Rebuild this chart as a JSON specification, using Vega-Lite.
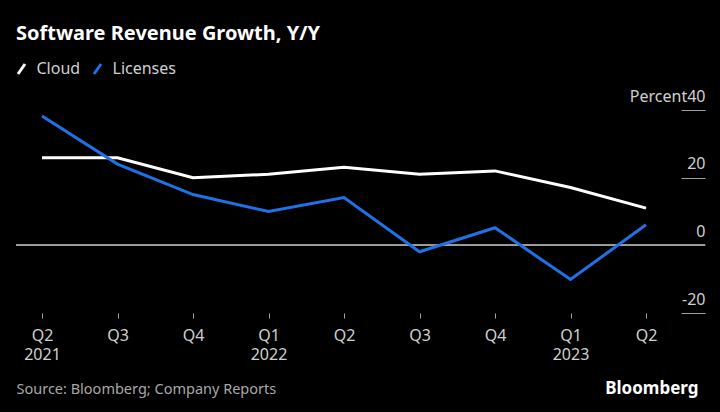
{
  "$schema": "https://vega.github.io/schema/vega-lite/v6.json",
  "width": 689,
  "height": 203,
  "autosize": {"type": "none"},
  "padding": {"top": 110, "left": 16, "right": 15, "bottom": 99},
  "background": "#000000",
  "config": {"view": {"stroke": null}, "font": "Noto Sans", "axis": {"labelLineHeight": 19}},
  "title": {
    "text": "Software Revenue Growth, Y/Y",
    "anchor": "start",
    "frame": "group",
    "font": "Noto Sans",
    "fontSize": 20,
    "fontWeight": "bold",
    "color": "#ffffff",
    "baseline": "alphabetic",
    "offset": 1
  },
  "data": {
    "values": [
      {"quarter": "2021 Q2", "series": "Cloud", "value": 25.9},
      {"quarter": "2021 Q3", "series": "Cloud", "value": 25.9},
      {"quarter": "2021 Q4", "series": "Cloud", "value": 20.0},
      {"quarter": "2022 Q1", "series": "Cloud", "value": 21.0},
      {"quarter": "2022 Q2", "series": "Cloud", "value": 23.1},
      {"quarter": "2022 Q3", "series": "Cloud", "value": 21.0},
      {"quarter": "2022 Q4", "series": "Cloud", "value": 22.0},
      {"quarter": "2023 Q1", "series": "Cloud", "value": 17.1},
      {"quarter": "2023 Q2", "series": "Cloud", "value": 11.0},
      {"quarter": "2021 Q2", "series": "Licenses", "value": 38.2},
      {"quarter": "2021 Q3", "series": "Licenses", "value": 24.0},
      {"quarter": "2021 Q4", "series": "Licenses", "value": 15.0},
      {"quarter": "2022 Q1", "series": "Licenses", "value": 10.0},
      {"quarter": "2022 Q2", "series": "Licenses", "value": 14.1},
      {"quarter": "2022 Q3", "series": "Licenses", "value": -1.9},
      {"quarter": "2022 Q4", "series": "Licenses", "value": 5.2},
      {"quarter": "2023 Q1", "series": "Licenses", "value": -10.1},
      {"quarter": "2023 Q2", "series": "Licenses", "value": 6.1}
    ]
  },
  "layer": [
    {
      "mark": {"type": "rule", "color": "#a0a0a0", "strokeWidth": 1},
      "encoding": {"y": {"datum": 0, "type": "quantitative"}}
    },
    {
      "mark": {"type": "line", "strokeWidth": 3},
      "encoding": {
        "x": {
          "field": "quarter",
          "type": "ordinal",
          "scale": {"type": "point", "range": [26, 630], "padding": 0},
          "axis": {
            "domain": false,
            "ticks": true,
            "tickSize": 5,
            "tickColor": "#a0a0a0",
            "tickWidth": 1,
            "labelAngle": 0,
            "labelFontSize": 16,
            "labelColor": "#d0d0d0",
            "labelPadding": 9,
            "labelBaseline": "top",
            "labelLineHeight": 19,
            "labelExpr": "(datum.value == '2021 Q2' || split(datum.value, ' ')[1] == 'Q1') ? [split(datum.value, ' ')[1], split(datum.value, ' ')[0]] : split(datum.value, ' ')[1]",
            "title": "Source: Bloomberg; Company Reports",
            "titleAnchor": "start",
            "titleAlign": "left",
            "titleX": 0,
            "titleFontSize": 14.5,
            "titleFontWeight": "normal",
            "titleColor": "#a8a8a8",
            "titlePadding": 20
          }
        },
        "y": {
          "field": "value",
          "type": "quantitative",
          "scale": {"domain": [-20, 40], "nice": false, "zero": false},
          "axis": {
            "orient": "right",
            "values": [-20, 0, 20, 40],
            "grid": false,
            "domain": false,
            "ticks": true,
            "tickSize": -24,
            "tickColor": "#a0a0a0",
            "tickWidth": 1,
            "labelAlign": "right",
            "labelPadding": 24,
            "labelBaseline": "alphabetic",
            "labelOffset": -9,
            "labelFontSize": 16,
            "labelColor": "#d0d0d0",
            "labelExpr": "datum.value == 40 ? 'Percent40' : '' + datum.value",
            "title": "Bloomberg",
            "titleAngle": 0,
            "titleAlign": "right",
            "titleBaseline": "alphabetic",
            "titleX": -7,
            "titleY": 283,
            "titleFontSize": 17,
            "titleFontWeight": "bold",
            "titleColor": "#ffffff"
          }
        },
        "color": {
          "field": "series",
          "type": "nominal",
          "scale": {"domain": ["Cloud", "Licenses"], "range": ["#ffffff", "#1f72e6"]},
          "legend": {
            "orient": "none",
            "legendX": -2.5,
            "legendY": -49,
            "direction": "horizontal",
            "title": null,
            "labelFontSize": 16,
            "labelColor": "#d0d0d0",
            "symbolType": "M-0.7,1L0.7,-1",
            "symbolSize": 100,
            "symbolStrokeWidth": 3,
            "columnPadding": 7,
            "labelOffset": 7
          }
        }
      }
    }
  ]
}
